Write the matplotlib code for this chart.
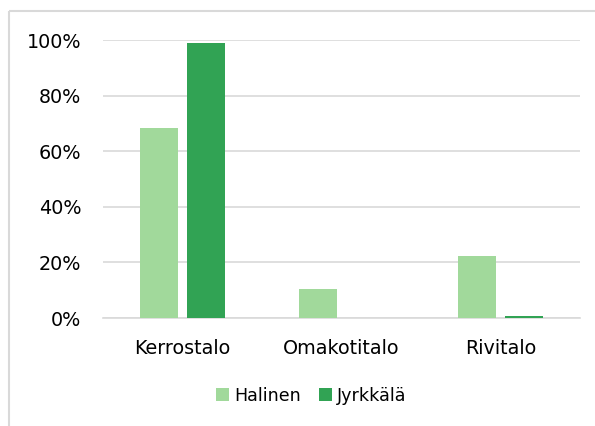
import matplotlib
matplotlib.use('Agg')
import matplotlib.pyplot as plt
from matplotlib.lines import Line2D
import numpy as np

categories = ['Kerrostalo', 'Omakotitalo', 'Rivitalo']
halinen = [0.683, 0.104, 0.223]
jyrkkala = [0.989, 0.0, 0.008]
series_names = ['Halinen', 'Jyrkkälä']

light_green = '#A1D99B'
dark_green = '#31A354'
grid_gray = '#D9D9D9'

plt.rcParams['font.family'] = ['DejaVu Sans']

fig = plt.figure(figsize=(5.95, 4.26), dpi=100)
ax = fig.add_axes([0.173, 0.2535, 0.802, 0.6525])

x = np.arange(len(categories))
w = 0.24
off = 0.148
ax.bar(x - off, halinen, w, color=light_green, label=series_names[0], zorder=3)
ax.bar(x + off, jyrkkala, w, color=dark_green, label=series_names[1], zorder=3)

ax.set_xlim(-0.5, len(categories) - 0.5)
ax.set_ylim(0, 1)
ticks = np.arange(0, 1.01, 0.2)
ax.set_yticks(ticks)
ax.set_yticklabels([f'{int(round(v * 100))}%' for v in ticks])
ax.set_xticks(x)
ax.set_xticklabels(categories)
ax.tick_params(length=0, labelsize=13.8, colors='black')
ax.tick_params(axis='y', pad=15.5)
ax.tick_params(axis='x', pad=15)
ax.grid(axis='y', color=grid_gray, linewidth=1.2, zorder=0)
for s in ax.spines.values():
    s.set_visible(False)
ax.axhline(0, color=grid_gray, linewidth=1.2, zorder=2, clip_on=False)

ax.legend(loc='upper center', bbox_to_anchor=(0.437, -0.19), ncol=2, frameon=False,
          fontsize=12.6, handlelength=0.75, handleheight=0.75, handletextpad=0.3,
          columnspacing=1.0)

# light grey chart frame, cut by the right and bottom edges of the image
left = 8.5 / 595
top = 1 - 10.5 / 426
fig.add_artist(Line2D([left, 1.05], [top, top], color=grid_gray, linewidth=1.5,
                      solid_capstyle='butt', transform=fig.transFigure))
fig.add_artist(Line2D([left, left], [-0.05, top], color=grid_gray, linewidth=1.5,
                      solid_capstyle='butt', transform=fig.transFigure))

fig.savefig('out.png', dpi=100)
